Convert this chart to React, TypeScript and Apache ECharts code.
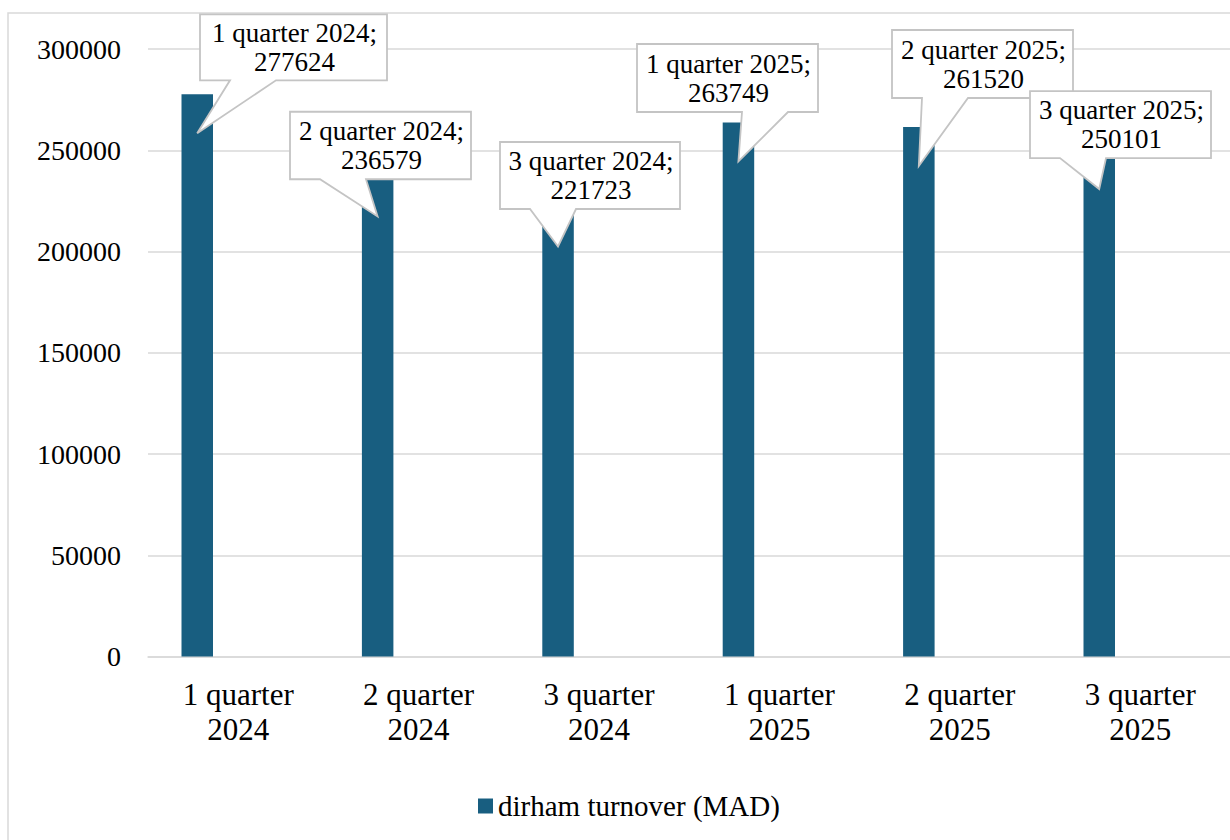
import React, { useEffect, useRef } from "react";
import * as echarts from "echarts";

// Quarterly dirham turnover
const categories = [
  "1 quarter 2024",
  "2 quarter 2024",
  "3 quarter 2024",
  "1 quarter 2025",
  "2 quarter 2025",
  "3 quarter 2025",
];
const turnover = [277624, 236579, 221723, 263749, 261520, 250101];
const seriesName = "dirham turnover (MAD)";

const yMin = 0;
const yMax = 300000;
const yStep = 50000;

// Callout boxes, placed relative to the top-centre of each bar (dx, dy) with size w x h
const calloutBoxes = [
  { dx: 2.8, dy: -80, w: 187, h: 66 },
  { dx: -87.6, dy: -65.7, w: 181, h: 67.5 },
  { dx: -58, dy: -65.5, w: 180, h: 67 },
  { dx: -101.4, dy: -78.4, w: 181, h: 68 },
  { dx: -26.8, dy: -96.9, w: 181, h: 68 },
  { dx: -69.2, dy: -59, w: 181, h: 67 },
];

const FONT = "'Liberation Serif', 'Times New Roman', serif";
const BAR_COLOR = "#185E80";
const GRID_COLOR = "#d9d9d9";

export default function App() {
  const ref = useRef<HTMLDivElement>(null);

  useEffect(() => {
    if (!ref.current) return;
    const chart = echarts.init(ref.current, undefined, { renderer: "svg" });

    const gridLeft = 148;
    const bandWidth = 180.4;
    const barWidth = 31.5;
    // the visible bar sits left of the band centre (the second, empty series takes the right slot)
    const barShiftRatio = -41 / bandWidth;
    const tipDrop = 39;

    const renderCallout = (params: any, api: any) => {
      const idx = api.value(0);
      const val = api.value(1);
      const pt = api.coord([idx, val]);
      const band = api.size([1, 0])[0];
      const bx = pt[0] + band * barShiftRatio;
      const top = pt[1];
      const box = calloutBoxes[idx];
      const left = bx + box.dx;
      const boxTop = top + box.dy;
      const right = left + box.w;
      const bottom = boxTop + box.h;
      const tipX = bx;
      const tipY = top + tipDrop;
      const cx = (left + right) / 2;
      let b1: number, b2: number;
      if (tipX < cx) {
        b1 = left + 30;
        b2 = left + 76;
      } else {
        b1 = right - 76;
        b2 = right - 30;
      }
      return {
        type: "group",
        children: [
          {
            type: "polygon",
            shape: {
              points: [
                [left, boxTop],
                [right, boxTop],
                [right, bottom],
                [b2, bottom],
                [tipX, tipY],
                [b1, bottom],
                [left, bottom],
              ],
            },
            style: { fill: "#ffffff", stroke: "#c4c4c4", lineWidth: 1.8 },
          },
          {
            type: "text",
            x: cx + 1,
            y: (boxTop + bottom) / 2,
            style: {
              text: categories[idx] + ";\n" + val,
              fontFamily: FONT,
              fontSize: 27,
              lineHeight: 29,
              fill: "#000",
              align: "center",
              verticalAlign: "middle",
            },
          },
        ],
      };
    };

    chart.setOption({
      animation: false,
      backgroundColor: "#ffffff",
      textStyle: { fontFamily: FONT },
      graphic: [
        {
          type: "rect",
          z: -10,
          silent: true,
          shape: { x: 8, y: 13, width: 1400, height: 1000 },
          style: { fill: "none", stroke: GRID_COLOR, lineWidth: 1.5 },
        },
      ],
      grid: {
        left: gridLeft,
        top: 49,
        width: bandWidth * categories.length,
        height: 607.5,
        containLabel: false,
      },
      legend: {
        data: [seriesName],
        left: 473,
        top: 786,
        icon: "rect",
        itemWidth: 15,
        itemHeight: 15,
        textStyle: { fontFamily: FONT, fontSize: 29, color: "#000", lineHeight: 30 },
      },
      xAxis: {
        type: "category",
        data: categories,
        axisLine: { show: true, lineStyle: { color: GRID_COLOR, width: 1.5 } },
        axisTick: { show: false },
        axisLabel: {
          interval: 0,
          margin: 20,
          fontFamily: FONT,
          fontSize: 31,
          lineHeight: 35,
          color: "#000",
          formatter: (v: string) => v.replace(/ (\d{4})$/, "\n$1"),
        },
      },
      yAxis: {
        type: "value",
        min: yMin,
        max: yMax,
        interval: yStep,
        axisLine: { show: false },
        axisTick: { show: false },
        splitLine: { lineStyle: { color: GRID_COLOR, width: 1.5 } },
        axisLabel: {
          margin: 27,
          fontFamily: FONT,
          fontSize: 28,
          color: "#000",
          formatter: (v: number) => String(v),
        },
      },
      series: [
        {
          name: seriesName,
          type: "bar",
          data: turnover,
          barWidth: barWidth,
          barGap: "160%",
          itemStyle: { color: BAR_COLOR },
        },
        {
          name: "spacer",
          type: "bar",
          data: categories.map(() => null),
          barWidth: barWidth,
          barGap: "160%",
        },
        {
          name: "callouts",
          type: "custom",
          clip: false,
          z: 10,
          renderItem: renderCallout,
          data: turnover.map((v, i) => [i, v]),
        },
      ],
    });

    return () => chart.dispose();
  }, []);

  return (
    <div
      style={{
        position: "fixed",
        left: 0,
        top: 0,
        width: 1230,
        height: 840,
        overflow: "hidden",
        background: "#fff",
      }}
    >
      <div ref={ref} style={{ width: 1300, height: 900 }} />
    </div>
  );
}
